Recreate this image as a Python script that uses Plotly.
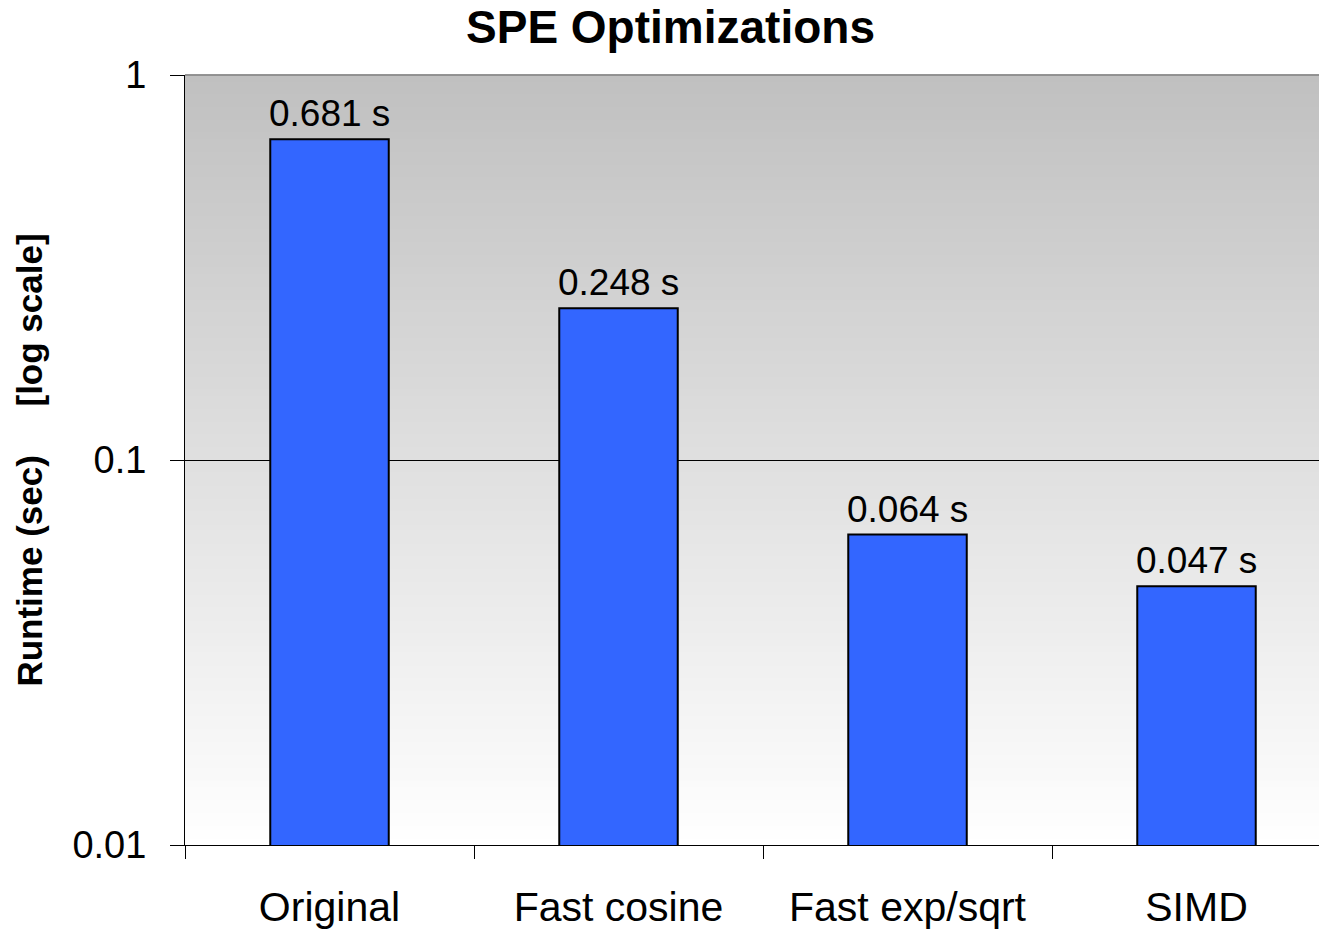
import math
import plotly.graph_objects as go

categories = ["Original", "Fast cosine", "Fast exp/sqrt", "SIMD"]
runtimes = [0.681, 0.248, 0.064, 0.047]
labels = ["0.681 s", "0.248 s", "0.064 s", "0.047 s"]
y_tickvals = [0.01, 0.1, 1]
y_ticktext = ["0.01", "0.1", "1"]

FONT = "Liberation Sans, Arial, sans-serif"

fig = go.Figure()
fig.add_trace(go.Bar(
    x=categories, y=runtimes,
    marker=dict(color="#3366FF", line=dict(color="black", width=2)),
    width=0.41, showlegend=False, hoverinfo="x+y",
))

# gradient background (grey top -> white bottom)
shapes = []
n = 120
for i in range(n):
    y0 = i / n
    y1 = (i + 1) / n
    t = (y0 + y1) / 2  # 0 bottom, 1 top
    c = int(round(255 - 63 * t))
    shapes.append(dict(type="rect", xref="paper", yref="paper", x0=0, x1=1,
                       y0=y0, y1=y1 + 0.001, fillcolor=f"rgb({c},{c},{c})",
                       line=dict(width=0), layer="below"))
shapes.append(dict(type="line", xref="paper", yref="paper", x0=0, x1=1, y0=1, y1=1,
                   line=dict(color="#808080", width=1.5), layer="between"))
fig.update_layout(shapes=shapes)

annotations = []
for c, v, lab in zip(categories, runtimes, labels):
    annotations.append(dict(x=c, y=math.log10(v), text=lab, showarrow=False,
                            xref="x", yref="y", yanchor="bottom", yshift=3,
                            font=dict(family=FONT, size=37, color="black")))
fig.update_layout(annotations=annotations)

fig.update_layout(
    width=1341, height=932,
    margin=dict(l=185, r=0, t=75, b=87, autoexpand=False),
    paper_bgcolor="white", plot_bgcolor="white",
    title=dict(text="<b>SPE Optimizations</b>", x=0.5, xanchor="center",
               y=0.988, yanchor="top",
               font=dict(family=FONT, size=46, color="black")),
    font=dict(family=FONT, color="black"),
)
fig.update_xaxes(
    type="category", showline=True, linecolor="black", linewidth=1,
    ticks="outside", tickson="boundaries", ticklen=13, tickcolor="black",
    tickfont=dict(family=FONT, size=41, color="black"),
    showgrid=False, ticklabelstandoff=26, automargin=False,
)
fig.update_yaxes(
    type="log", range=[-2, 0], tickvals=y_tickvals, ticktext=y_ticktext,
    showline=True, linecolor="black", linewidth=1,
    ticks="outside", ticklen=14, tickcolor="black",
    tickfont=dict(family=FONT, size=38, color="black"),
    showgrid=True, gridcolor="black", gridwidth=1,
    ticklabelstandoff=16, automargin=False,
    title=dict(text="<b>Runtime (sec)     [log scale]</b>", standoff=19,
               font=dict(family=FONT, size=35, color="black")),
)

fig.write_html(
    "out.html",
    config={"displayModeBar": False},
    post_script="document.body.style.margin='0';document.body.style.overflow='hidden';",
)
